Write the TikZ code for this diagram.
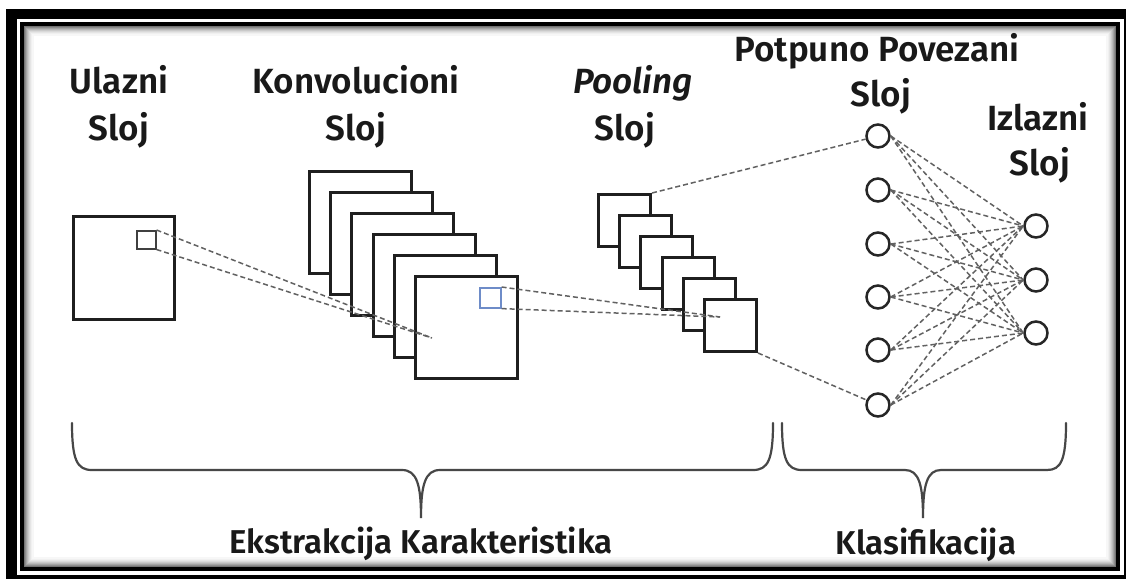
\documentclass[tikz,border=0pt]{standalone}
\usepackage{fontspec}
\setmainfont{Fira Sans}[BoldFont={Fira Sans SemiBold}, BoldItalicFont={Fira Sans SemiBold Italic}]
\begin{document}
\begin{tikzpicture}[x=1pt,y=-1pt,
  lbl/.style={font=\fontsize{35}{40}\selectfont\bfseries, anchor=base, inner sep=0pt, text=black!90},
  bot/.style={font=\fontsize{33}{38}\selectfont\bfseries, anchor=base, inner sep=0pt, text=black!90},
  fmap/.style={draw=black!88, fill=white, line width=3pt, anchor=north west, inner sep=0pt},
  conv/.style={fmap, minimum width=102pt, minimum height=102pt},
  pool/.style={fmap, minimum width=52pt, minimum height=52pt},
  neuron/.style={circle, draw=black!85, fill=white, line width=2.5pt, minimum size=23pt, inner sep=0pt},
  link/.style={draw=black!62, line width=1.5pt, dash pattern=on 5pt off 3pt},
  brace/.style={draw=black!72, line width=2.2pt, line cap=round}
]
\useasboundingbox (0,0) rectangle (1126,578);
\begin{scope}
\clip (0,0) rectangle (1126,578);
% double frame with an inset shadow
\fill[black] (6,9) rectangle (1132,584);
\fill[white] (17,19) rectangle (1123.5,574.5);
\draw[black, line width=4pt] (22,24) rectangle (1118,569);
\foreach \i/\g in {1/55,2/45,3/36,4/28,5/21,6/15,7/10,8/6,9/3} {
  \draw[black!\g, line width=1.1pt] (24+\i,26+\i) rectangle (1116-\i,567-\i);
}
\end{scope}

% layer titles
\node[lbl] (t1a) at (119,93) {Ulazni};
\node[lbl] (t1b) at (119,140) {Sloj};
\node[lbl] (t2a) at (356,93) {Konvolucioni};
\node[lbl] (t2b) at (356,140) {Sloj};
\node[lbl] (t3a) at (633,93) {\itshape Pooling};
\node[lbl] (t3b) at (625,140) {Sloj};
\node[lbl] (t4a) at (877,62) {Potpuno Povezani};
\node[lbl] (t4b) at (881,106) {Sloj};
\node[lbl] (t5a) at (1038,130) {Izlazni};
\node[lbl] (t5b) at (1040,175) {Sloj};

% input image with its receptive field
\node[fmap, minimum width=101pt, minimum height=103pt] (in) at (72,215) {};
\node[draw=black!75, line width=1.5pt, minimum width=19pt, minimum height=18pt, inner sep=0pt, anchor=north west] (rf) at (136,230) {};

% convolution feature maps
\foreach \k in {1,...,6} {
  \node[conv] (c\k) at ({308+21.2*(\k-1)},{170+21*(\k-1)}) {};
}
\node[draw={rgb,255:red,110;green,140;blue,200}, line width=1.6pt, minimum width=21pt, minimum height=20pt, inner sep=0pt, anchor=north west] (bq) at (479,287) {};

% pooling feature maps
\foreach \k in {1,...,6} {
  \node[pool] (p\k) at ({597+21.2*(\k-1)},{193+21*(\k-1)}) {};
}

% fully connected and output neurons
\foreach \k/\y in {1/136,2/190,3/244,4/297,5/350,6/405} {
  \node[neuron] (f\k) at (878,\y) {};
}
\foreach \k/\y in {1/226,2/280,3/333} {
  \node[neuron] (o\k) at (1036,\y) {};
}

% receptive-field projections
\coordinate (kc) at (432,338);
\coordinate (kp) at (720,317);
\draw[link] (rf.north east) -- (kc);
\draw[link] (rf.south east) -- (kc);
\draw[link] (bq.north east) -- (kp);
\draw[link] (bq.south east) -- (kp);
\draw[link] (p1.north east) -- (f1);
\draw[link] (p6.south east) -- (f6);
\foreach \a in {1,...,6} {
  \foreach \b in {1,2,3} {
    \draw[link] (f\a.east) -- (o\b.west);
  }
}

% braces grouping the stages
\draw[brace] (72,423) .. controls (72,460) and (77,470) .. (92,470) -- (402,470)
  .. controls (417,470) and (421,485) .. (421,518)
  .. controls (421,485) and (425,470) .. (440,470) -- (753,470)
  .. controls (768,470) and (773,460) .. (773,423);
\draw[brace] (782,423) .. controls (782,460) and (787,470) .. (802,470) -- (905,470)
  .. controls (919,470) and (923,485) .. (923,518)
  .. controls (923,485) and (927,470) .. (941,470) -- (1047,470)
  .. controls (1061,470) and (1066,460) .. (1066,423);

\node[bot] (g1) at (421,553) {Ekstrakcija Karakteristika};
\node[bot] (g2) at (926,554) {Klasifikacija};
\end{tikzpicture}
\end{document}
